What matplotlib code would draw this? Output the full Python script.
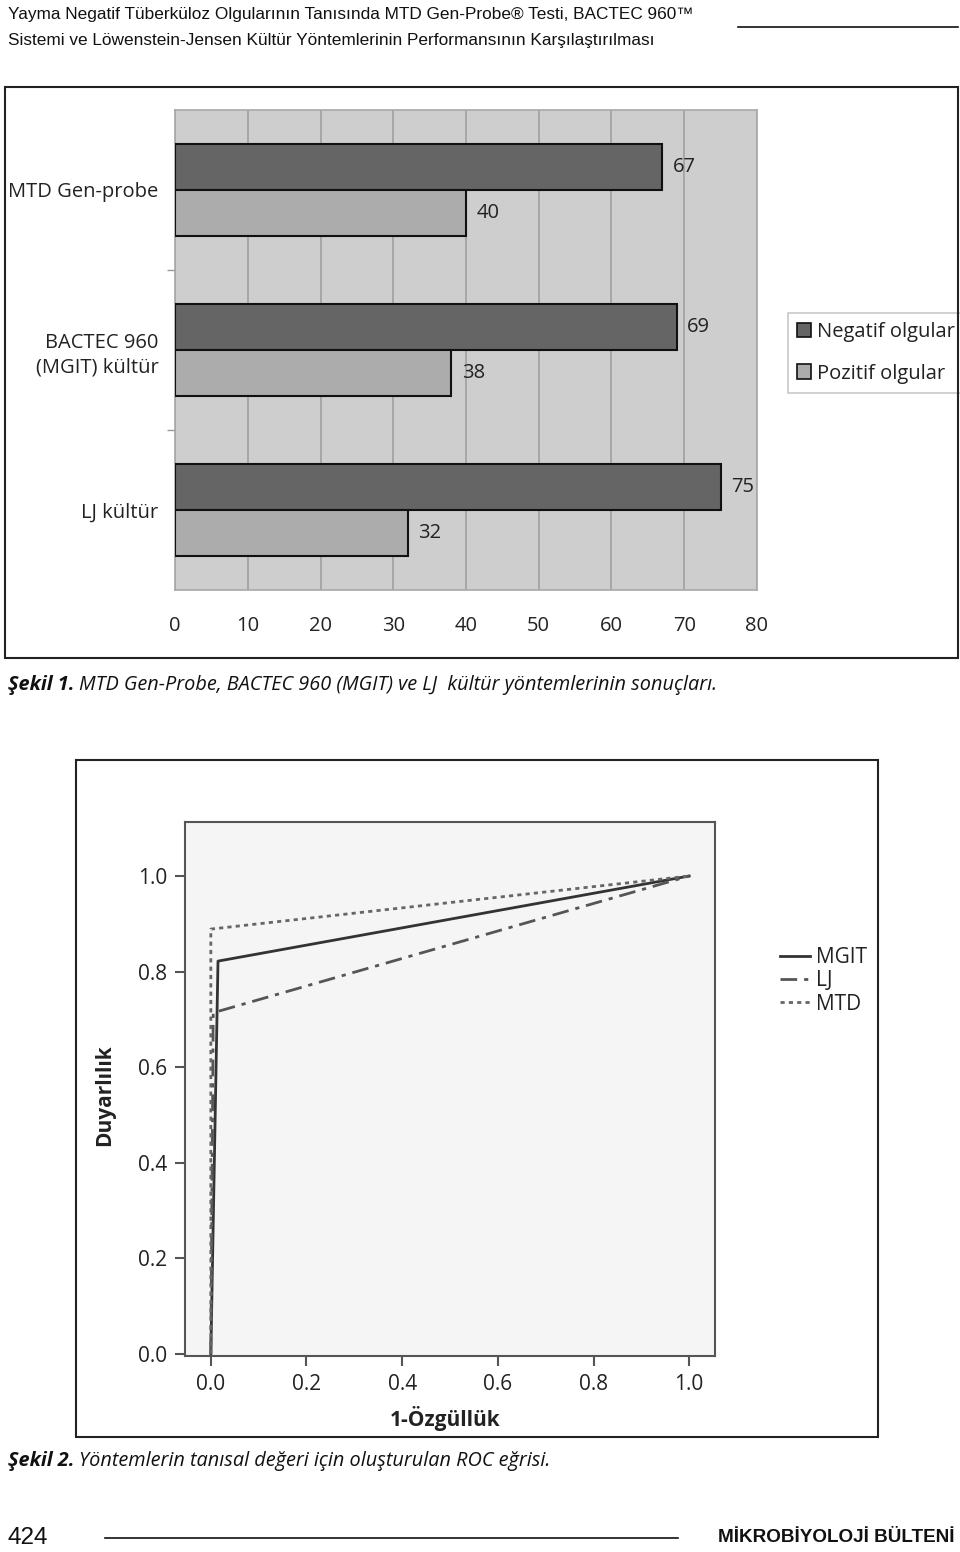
import numpy as np
import matplotlib.pyplot as plt
from matplotlib.patches import Rectangle, Patch
from matplotlib.lines import Line2D

W, H = 960, 1552

# figure 1 data
categories = ["MTD Gen-probe", "BACTEC 960\n(MGIT) kültür", "LJ kültür"]
negatif = [67, 69, 75]
pozitif = [40, 38, 32]
bar_xticks = [0, 10, 20, 30, 40, 50, 60, 70, 80]

# figure 2 data (ROC points: 1-specificity, sensitivity)
mgit_x = [0.0, 0.015, 1.0]
mgit_y = [0.0, 0.822, 1.0]
lj_x = [0.0, 0.005, 1.0]
lj_y = [0.0, 0.714, 1.0]
mtd_x = [0.0, 0.0, 1.0]
mtd_y = [0.0, 0.889, 1.0]
roc_ticks = [0.0, 0.2, 0.4, 0.6, 0.8, 1.0]

chart_font = ["Open Sans", "DejaVu Sans"]
page_font = ["Liberation Sans", "DejaVu Sans"]


def fx(x):
    return x / W


def fy(y):
    return 1 - y / H


def box(x0, y0, x1, y1):
    return [fx(x0), fy(y1), (x1 - x0) / W, (y1 - y0) / H]


fig = plt.figure(figsize=(W / 100, H / 100), dpi=100)
fig.patch.set_facecolor("white")

# page header
fig.text(fx(8), fy(15), "Yayma Negatif Tüberküloz Olgularının Tanısında MTD Gen-Probe® Testi, BACTEC 960™",
         family=page_font, fontsize=12.4, va="center", ha="left", color="#111")
fig.text(fx(8), fy(40), "Sistemi ve Löwenstein-Jensen Kültür Yöntemlerinin Performansının Karşılaştırılması",
         family=page_font, fontsize=12.4, va="center", ha="left", color="#111")
fig.add_artist(Line2D([fx(738), fx(958)], [fy(27), fy(27)], transform=fig.transFigure, color="#111", lw=1.2))

# ---- figure 1: horizontal bars
fig.add_artist(Rectangle((fx(5), fy(658)), 953 / W, 571 / H, transform=fig.transFigure,
                         fill=False, ec="#222", lw=1.5))
ax1 = fig.add_axes(box(175, 110, 757, 590))
ax1.set_facecolor("#cecece")
y = np.arange(len(categories))
h = 0.285
b_neg = ax1.barh(y - h / 2, negatif, height=h, color="#656565", edgecolor="#111", lw=1.5, zorder=3,
                 label="Negatif olgular")
b_pos = ax1.barh(y + h / 2, pozitif, height=h, color="#acacac", edgecolor="#111", lw=1.5, zorder=3,
                 label="Pozitif olgular")
for bars in (b_neg, b_pos):
    for r in bars:
        ax1.text(r.get_width() + 1.4, r.get_y() + r.get_height() / 2, str(int(r.get_width())),
                 va="center", ha="left", family=chart_font, fontsize=14.5, color="#222")
ax1.set_xlim(0, 80)
ax1.set_ylim(2.5, -0.5)
ax1.set_xticks(bar_xticks)
ax1.set_xticklabels([str(v) for v in bar_xticks], family=chart_font, fontsize=14.5, color="#222")
ax1.tick_params(axis="x", length=0, pad=19)
ax1.set_yticks(y)
ax1.set_yticklabels(categories, family=chart_font, fontsize=14.5, color="#222", linespacing=1.3)
ax1.tick_params(axis="y", which="major", length=0, pad=12)
ax1.set_yticks([0.5, 1.5], minor=True)
ax1.tick_params(axis="y", which="minor", length=6, color="#999", width=1)
ax1.grid(axis="x", color="#a0a0a0", lw=1.2, zorder=0)
for s in ax1.spines.values():
    s.set_color("#a8a8a8")
    s.set_linewidth(1.2)
leg1 = ax1.legend(handles=[Patch(fc="#656565", ec="#111", lw=1.2, label="Negatif olgular"),
                           Patch(fc="#acacac", ec="#111", lw=1.2, label="Pozitif olgular")],
                  loc="center left", bbox_to_anchor=(fx(788), fy(353)), bbox_transform=fig.transFigure,
                  prop={"family": chart_font, "size": 14.5}, frameon=True, fancybox=False,
                  handlelength=0.7, handleheight=0.7, handletextpad=0.3, borderpad=0.45,
                  labelspacing=1.05, borderaxespad=0)
leg1.get_frame().set_edgecolor("#bbbbbb")
leg1.get_frame().set_linewidth(1.2)
for t in leg1.get_texts():
    t.set_color("#222")

# caption 1
renderer = fig.canvas.get_renderer()
c1 = fig.text(fx(8), fy(685), "Şekil 1.", family=chart_font, style="italic", weight="bold",
              fontsize=14.3, va="center", ha="left", color="#111")
bb = c1.get_window_extent(renderer)
fig.text(bb.x1 / W + fx(5), fy(685), "MTD Gen-Probe, BACTEC 960 (MGIT) ve LJ  kültür yöntemlerinin sonuçları.",
         family=chart_font, style="italic", fontsize=14.3, va="center", ha="left", color="#111")

# ---- figure 2: ROC curves
fig.add_artist(Rectangle((fx(76), fy(1437)), 802 / W, 677 / H, transform=fig.transFigure,
                         fill=False, ec="#222", lw=1.5))
ax2 = fig.add_axes(box(185, 822, 715, 1356))
ax2.set_facecolor("#f5f5f5")
ax2.plot(mgit_x, mgit_y, color="#333333", lw=2, ls="-", label="MGIT")
ax2.plot(lj_x, lj_y, color="#555555", lw=2, ls=(0, (6, 2.5, 1.5, 2.5)), label="LJ")
ax2.plot(mtd_x, mtd_y, color="#666666", lw=2, ls=(0, (1.5, 1.5)), label="MTD")
ax2.set_xlim(-0.054, 1.054)
ax2.set_ylim(-0.004, 1.113)
ax2.set_xticks(roc_ticks)
ax2.set_yticks(roc_ticks)
ax2.set_xticklabels([f"{v:.1f}" for v in roc_ticks], family=chart_font, fontsize=15, color="#222")
ax2.set_yticklabels([f"{v:.1f}" for v in roc_ticks], family=chart_font, fontsize=15, color="#222")
ax2.tick_params(direction="out", length=7, width=1.5, color="#555", pad=6)
for s in ax2.spines.values():
    s.set_color("#555555")
    s.set_linewidth(1.5)
ax2.set_xlabel("1-Özgüllük", family=chart_font, weight="bold", fontsize=15, color="#222")
ax2.xaxis.set_label_coords(0.49, -0.094)
ax2.set_ylabel("Duyarlılık", family=chart_font, weight="bold", fontsize=15, color="#222")
ax2.yaxis.set_label_coords(-0.132, 0.489)
leg2 = ax2.legend(loc="center left", bbox_to_anchor=(fx(772), fy(981)), bbox_transform=fig.transFigure,
                  prop={"family": chart_font, "size": 15}, frameon=False, handlelength=1.4,
                  handletextpad=0.3, labelspacing=0.1, borderaxespad=0)
for t in leg2.get_texts():
    t.set_color("#222")

# caption 2
c2 = fig.text(fx(8), fy(1461), "Şekil 2.", family=chart_font, style="italic", weight="bold",
              fontsize=14.3, va="center", ha="left", color="#111")
bb = c2.get_window_extent(renderer)
fig.text(bb.x1 / W + fx(5), fy(1461), "Yöntemlerin tanısal değeri için oluşturulan ROC eğrisi.",
         family=chart_font, style="italic", fontsize=14.3, va="center", ha="left", color="#111")

# page footer
fig.text(fx(8), fy(1538), "424", family=page_font, fontsize=17.5, va="center", ha="left", color="#111")
fig.add_artist(Line2D([fx(105), fx(678)], [fy(1538), fy(1538)], transform=fig.transFigure, color="#111", lw=1.2))
fig.text(fx(955), fy(1538), "MİKROBİYOLOJİ BÜLTENİ", family=page_font, weight="bold", fontsize=13.6,
         va="center", ha="right", color="#111")

fig.savefig("out.png", dpi=100)
